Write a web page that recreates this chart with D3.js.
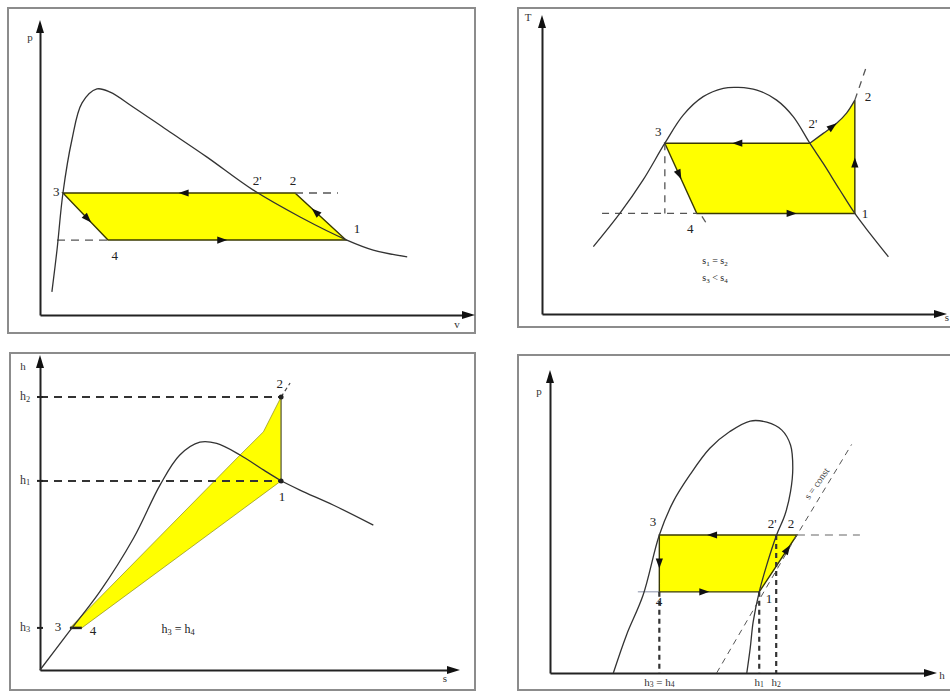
<!DOCTYPE html>
<html>
<head>
<meta charset="utf-8">
<script src="https://cdn.jsdelivr.net/npm/d3@7"></script>
<style>
body { margin: 0; background: #fff; }
svg { display: block; font-family: "Liberation Serif", "DejaVu Serif", serif; }
</style>
</head>
<body>
<div id="chart"></div>
<script>
// all values are in schematic units 0..10 on both axes of each panel

// p-v diagram
const pvDome = [[0.28,0.81],[0.40,2.28],[0.54,4.28],[0.75,6.14],[0.99,7.44],[1.34,7.93],[1.65,7.82],[2.19,7.30],[2.99,6.49],[3.93,5.54],[5.01,4.39],[6.12,3.44],[7.22,2.63],[7.84,2.28],[8.64,2.04]];
const pvPoints = {"1": [7.2,2.63], "2": [6.0,4.28], "2'": [5.14,4.28], "3": [0.54,4.28], "4": [1.6,2.63]};
const pvDashed = [[[6.0,4.28],[7.01,4.28]], [[0.4,2.63],[1.6,2.63]]];
const pvLabels = [["3",0.38,4.28],["2'",5.11,4.67],["2",5.95,4.67],["1",7.46,3.0],["4",1.76,2.03]];

// T-s diagram
const tsDome = [[1.30,2.33],[1.97,3.48],[2.56,4.64],[3.11,5.91],[3.58,6.89],[4.08,7.52],[4.59,7.81],[4.97,7.84],[5.44,7.75],[5.94,7.40],[6.36,6.83],[6.78,5.91],[7.12,5.21],[7.54,4.29],[7.92,3.48],[8.30,2.79],[8.77,1.98]];
const tsSuperheat = [[6.78,5.91],[7.12,6.25],[7.46,6.60],[7.71,6.95],[7.92,7.40]];
const tsPoints = {"1": [7.92,3.48], "2": [7.92,7.40], "2'": [6.78,5.91], "3": [3.11,5.91], "4": [3.92,3.48]};
const tsDashed = [[[1.52,3.48],[3.92,3.48]], [[3.11,5.91],[3.11,3.48]], [[7.92,7.40],[8.20,8.51]], [[4.05,3.38],[4.20,3.05]]];
const tsLabels = [["3",2.94,6.26],["2'",6.86,6.54],["2",8.25,7.47],["1",8.18,3.43],["4",3.75,2.91]];
const tsNotes = [["s_1 = s_2",4.38,1.80],["s_3 < s_4",4.38,1.21]];

// h-s diagram
const hsDome = [[0,0],[0.65,1.15],[1.46,2.57],[2.28,4.32],[2.93,6.07],[3.41,7.05],[3.90,7.47],[4.31,7.43],[4.88,7.05],[5.45,6.56],[5.85,6.23],[6.34,5.90],[7.15,5.41],[8.13,4.75]];
const hsPoints = {"1": [5.88,6.20], "2": [5.88,8.95], "3": [0.73,1.38], "4": [1.02,1.38]};
const hsUpperEdge = [[0.73,1.38],[4.88,7.05],[5.45,7.81],[5.88,8.95]];
const hsLevels = [["h_2",8.95],["h_1",6.20],["h_3",1.38]];
const hsLabels = [["2",5.85,9.34],["1",5.90,5.64],["3",0.44,1.38],["4",1.29,1.25]];
const hsNotes = [["h_3 = h_4",3.37,1.31]];

// p-h diagram
const phDome = [[1.68,0],[2.03,1.30],[2.47,2.66],[2.90,4.71],[3.27,5.85],[3.71,6.76],[4.24,7.67],[4.77,8.24],[5.31,8.60],[5.75,8.56],[6.15,8.29],[6.38,7.78],[6.44,6.99],[6.38,6.19],[6.23,5.39],[6.01,4.71],[5.75,3.69],[5.55,2.77],[5.39,1.75],[5.31,0.84],[5.22,0]];
const phPoints = {"1": [5.55,2.77], "2": [6.55,4.71], "2'": [6.01,4.71], "3": [2.90,4.71], "4": [2.90,2.77]};
const phIsentrope = [[4.42,0],[6.55,4.71],[8.0,7.8]];
const phDrops = [["h_3 = h_4",2.90,2.77],["h_1",5.55,2.77],["h_2",6.0,4.71]];
const phLabels = [["3",2.73,5.12],["2'",5.89,5.05],["2",6.39,5.05],["1",5.81,2.49],["4",2.89,2.39]];

const W = 950, H = 693;
const svg = d3.select("#chart").append("svg").attr("width", W).attr("height", H);

const line = d3.line();
const smooth = d3.line().curve(d3.curveCatmullRom.alpha(0.5));

function subText(sel, str) {
    // "h_3 = h_4" -> h with subscript 3 ...
    const parts = str.split(/_(\w)/);
    let down = false;
    parts.forEach((p, i) => {
        if (!p) return;
        if (i % 2 === 1) {
            sel.append("tspan").attr("font-size", "0.7em").attr("dy", "0.3em").text(p);
            down = true;
        } else {
            const t = sel.append("tspan").text(p);
            if (down) { t.attr("dy", "-0.21em"); down = false; }
        }
    });
}

function makePanel(cfg) {
    const g = svg.append("g");
    g.append("rect")
        .attr("x", cfg.frame[0]).attr("y", cfg.frame[1])
        .attr("width", cfg.frame[2]).attr("height", cfg.frame[3])
        .attr("fill", "#fff").attr("stroke", "#8c8c8c").attr("stroke-width", 2);

    const x = d3.scaleLinear().domain([0, 10]).range(cfg.xr);
    const y = d3.scaleLinear().domain([0, 10]).range(cfg.yr);

    const xa = g.append("g").attr("transform", `translate(0,${y(0)})`)
        .call(d3.axisBottom(x).tickValues([]).tickSizeOuter(0));
    const ya = g.append("g").attr("transform", `translate(${x(0)},0)`)
        .call(d3.axisLeft(y).tickValues([]).tickSizeOuter(0));
    [xa, ya].forEach(a => a.select(".domain").attr("stroke", "#222").attr("stroke-width", 2));

    g.append("path").attr("d", `M${x(10) + 10},${y(0)}L${x(10) - 3},${y(0) - 4}L${x(10) - 3},${y(0) + 4}Z`).attr("fill", "#111");
    g.append("path").attr("d", `M${x(0)},${y(10) - 10}L${x(0) - 4},${y(10) + 3}L${x(0) + 4},${y(10) + 3}Z`).attr("fill", "#111");

    g.append("text").attr("x", x(0) + cfg.yName[1]).attr("y", y(10) + cfg.yName[2])
        .attr("text-anchor", "middle").attr("dominant-baseline", "middle")
        .attr("font-size", 11).attr("fill", "#333").text(cfg.yName[0]);
    g.append("text").attr("x", x(10) + cfg.xName[1]).attr("y", y(0) + cfg.xName[2])
        .attr("text-anchor", "middle").attr("dominant-baseline", "middle")
        .attr("font-size", 11).attr("fill", "#333").text(cfg.xName[0]);
    return {g, x, y};
}

function px(p, x, y) { return [x(p[0]), y(p[1])]; }

function arrow(g, x, y, a, b, t) {
    const A = px(a, x, y), B = px(b, x, y);
    const cx = A[0] + (B[0] - A[0]) * t, cy = A[1] + (B[1] - A[1]) * t;
    const ang = Math.atan2(B[1] - A[1], B[0] - A[0]) * 180 / Math.PI;
    g.append("path").attr("d", "M5,0L-5,-3.6L-5,3.6Z")
        .attr("transform", `translate(${cx},${cy}) rotate(${ang})`)
        .attr("fill", "#111");
}

function labels(g, x, y, list, size) {
    list.forEach(d => {
        const t = g.append("text").attr("x", x(d[1])).attr("y", y(d[2]))
            .attr("text-anchor", "middle").attr("dominant-baseline", "middle")
            .attr("font-size", size).attr("fill", "#222");
        subText(t, d[0]);
    });
}

function dashed(g, x, y, segs, w, dash, col) {
    segs.forEach(s => g.append("path").attr("d", line(s.map(p => px(p, x, y))))
        .attr("fill", "none").attr("stroke", col || "#444").attr("stroke-width", w)
        .attr("stroke-dasharray", dash));
}

const YELLOW = "#ffff00", EDGE = "#3a3a00";

// ---------- p-v ----------
{
    const {g, x, y} = makePanel({frame: [8, 8, 467, 325], xr: [40, 465], yr: [315, 30],
        yName: ["p", -10, 8], xName: ["v", -8, 10]});
    const P = pvPoints;
    const cyc = ["3", "2", "1", "4"].map(k => px(P[k], x, y));
    g.append("path").attr("d", line(cyc) + "Z").attr("fill", YELLOW).attr("stroke", EDGE).attr("stroke-width", 1.4);
    dashed(g, x, y, pvDashed, 1.3, "8,6", "#555");
    g.append("path").attr("d", smooth(pvDome.map(p => px(p, x, y))))
        .attr("fill", "none").attr("stroke", "#333").attr("stroke-width", 1.3);
    arrow(g, x, y, P["2"], P["3"], 0.48);
    arrow(g, x, y, P["4"], P["1"], 0.48);
    arrow(g, x, y, P["3"], P["4"], 0.55);
    arrow(g, x, y, P["1"], P["2"], 0.6);
    labels(g, x, y, pvLabels, 13);
}

// ---------- T-s ----------
{
    const {g, x, y} = makePanel({frame: [518, 8, 440, 319], xr: [542, 937], yr: [314, 25],
        yName: ["T", -14, -7], xName: ["s", 10, 4]});
    const P = tsPoints;
    const outline = [px(P["3"], x, y)].concat(tsSuperheat.map(p => px(p, x, y)), [px(P["1"], x, y), px(P["4"], x, y)]);
    g.append("path").attr("d", line(outline) + "Z").attr("fill", YELLOW).attr("stroke", "none");
    g.append("path").attr("d", line(["2'", "3", "4", "1", "2"].map(k => px(P[k], x, y))))
        .attr("fill", "none").attr("stroke", EDGE).attr("stroke-width", 1.4);
    g.append("path").attr("d", smooth(tsSuperheat.map(p => px(p, x, y))))
        .attr("fill", "none").attr("stroke", "#333").attr("stroke-width", 1.3);
    dashed(g, x, y, tsDashed, 1.3, "7,6", "#555");
    g.append("path").attr("d", smooth(tsDome.map(p => px(p, x, y))))
        .attr("fill", "none").attr("stroke", "#333").attr("stroke-width", 1.3);
    arrow(g, x, y, P["2'"], P["3"], 0.5);
    arrow(g, x, y, P["4"], P["1"], 0.6);
    arrow(g, x, y, P["3"], P["4"], 0.45);
    arrow(g, x, y, P["1"], P["2"], 0.45);
    arrow(g, x, y, tsSuperheat[1], tsSuperheat[2], 0.7);
    labels(g, x, y, tsLabels, 13);
    labels(g, x, y, tsNotes, 10);
}

// ---------- h-s ----------
{
    const {g, x, y} = makePanel({frame: [10, 353, 465, 337], xr: [40, 450], yr: [670, 365],
        yName: ["h", -17, 2], xName: ["s", -5, 9]});
    const P = hsPoints;
    const outline = hsUpperEdge.map(p => px(p, x, y)).concat([px(P["1"], x, y), px(P["4"], x, y)]);
    g.append("path").attr("d", line(outline) + "Z").attr("fill", YELLOW)
        .attr("stroke", "#8a8a20").attr("stroke-width", 0.7);
    g.append("path").attr("d", line([px(P["1"], x, y), px(P["2"], x, y)]))
        .attr("stroke", "#555").attr("stroke-width", 1);
    hsLevels.forEach(l => {
        const pt = l[1] === P["2"][1] ? P["2"] : (l[1] === P["1"][1] ? P["1"] : null);
        if (pt) dashed(g, x, y, [[[0, l[1]], pt]], 2, "8,6", "#333");
        g.append("path").attr("d", line([[x(0) - 3, y(l[1])], [x(0) + 3, y(l[1])]]))
            .attr("stroke", "#222").attr("stroke-width", 2);
        const t = g.append("text").attr("x", x(0) - 15).attr("y", y(l[1]))
            .attr("text-anchor", "middle").attr("dominant-baseline", "middle")
            .attr("font-size", 12).attr("fill", "#333");
        subText(t, l[0]);
    });
    g.append("path").attr("d", line([px(P["3"], x, y), px(P["4"], x, y)]))
        .attr("stroke", "#222").attr("stroke-width", 2.5);
    dashed(g, x, y, [[P["2"], [6.10, 9.41]]], 1.2, "4,3", "#444");
    g.append("path").attr("d", smooth(hsDome.map(p => px(p, x, y))))
        .attr("fill", "none").attr("stroke", "#333").attr("stroke-width", 1.3);
    g.append("circle").attr("cx", x(P["1"][0])).attr("cy", y(P["1"][1])).attr("r", 2.5).attr("fill", "#222");
    g.append("circle").attr("cx", x(P["2"][0])).attr("cy", y(P["2"][1])).attr("r", 2.5).attr("fill", "#222");
    labels(g, x, y, hsLabels, 13);
    labels(g, x, y, hsNotes, 12);
}

// ---------- p-h ----------
{
    const {g, x, y} = makePanel({frame: [518, 355, 440, 335], xr: [550, 927], yr: [673, 380],
        yName: ["p", -11, 12], xName: ["h", 15, 3]});
    const P = phPoints;
    const cyc = ["3", "2", "1", "4"].map(k => px(P[k], x, y));
    g.append("path").attr("d", line(cyc) + "Z").attr("fill", YELLOW).attr("stroke", EDGE).attr("stroke-width", 1.4);
    g.append("path").attr("d", line([[2.33, 2.77], P["4"]].map(p => px(p, x, y))))
        .attr("stroke", "#8890a8").attr("stroke-width", 1);
    dashed(g, x, y, [[P["2"], [8.22, 4.71]]], 1.2, "8,6", "#666");
    dashed(g, x, y, [phIsentrope], 1, "6,5", "#555");
    phDrops.forEach(d => {
        dashed(g, x, y, [[[d[1], d[2]], [d[1], 0]]], 2.2, "5,4", "#333");
        const t = g.append("text").attr("x", x(d[1])).attr("y", y(0) + 10)
            .attr("text-anchor", "middle").attr("dominant-baseline", "middle")
            .attr("font-size", 11).attr("fill", "#333");
        subText(t, d[0]);
    });
    g.append("path").attr("d", smooth(phDome.map(p => px(p, x, y))))
        .attr("fill", "none").attr("stroke", "#333").attr("stroke-width", 1.3);
    arrow(g, x, y, P["2'"], P["3"], 0.55);
    arrow(g, x, y, P["4"], P["1"], 0.45);
    arrow(g, x, y, P["3"], P["4"], 0.5);
    arrow(g, x, y, P["1"], P["2"], 0.75);
    labels(g, x, y, phLabels, 13);
    g.append("text").attr("transform", `translate(${x(7.1)},${y(6.45)}) rotate(-55)`)
        .attr("text-anchor", "middle").attr("dominant-baseline", "middle")
        .attr("font-size", 10).attr("fill", "#444").text("s = const");
}
</script>
</body>
</html>
